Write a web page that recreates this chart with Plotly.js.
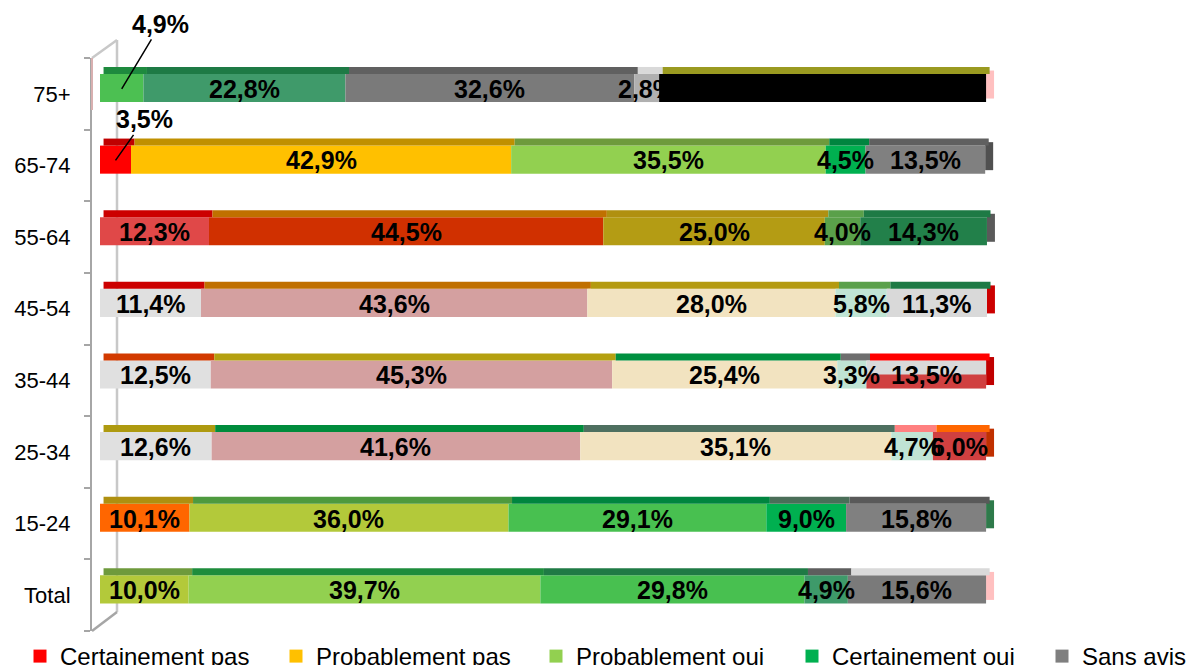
<!DOCTYPE html>
<html>
<head>
<meta charset="utf-8">
<script src="https://cdn.plot.ly/plotly-3.0.1.min.js"></script>
<style>html,body{margin:0;padding:0;background:#fff;}#chart{width:1186px;height:665px;}</style>
</head>
<body>
<div id="chart"></div>
<script>
// ---- data ----
const categories = ['Total', '15-24', '25-34', '35-44', '45-54', '55-64', '65-74', '75+'];
const seriesNames = ['Certainement pas', 'Probablement pas', 'Probablement oui', 'Certainement oui', 'Sans avis'];
const certainementPas = [10.0, 10.1, 12.6, 12.5, 11.4, 12.3, 3.5, 4.9];
const probablementPas = [39.7, 36.0, 41.6, 45.3, 43.6, 44.5, 42.9, 22.8];
const probablementOui = [29.8, 29.1, 35.1, 25.4, 28.0, 25.0, 35.5, 32.6];
const certainementOui = [4.9, 9.0, 4.7, 3.3, 5.8, 4.0, 4.5, 2.8];
const sansAvis = [15.6, 15.8, 6.0, 13.5, 11.3, 14.3, 13.5, 36.9];

// ---- styles ----
const legendColors = ['#FF0000', '#FFC000', '#92D050', '#00B050', '#7F7F7F'];
const frontColors = [
  ['#B3C93A', '#FF6600', '#E0E0E0', '#E0E0E0', '#E0E0E0', '#E04848', '#FF0000', '#4CC052'],
  ['#92D050', '#B3C93A', '#D4A0A0', '#D4A0A0', '#D4A0A0', '#D03000', '#FFC000', '#3F9A6A'],
  ['#48C050', '#48C050', '#F2E3C0', '#F2E3C0', '#F2E3C0', '#B49C14', '#92D050', '#7A7A7A'],
  ['#3E9A6A', '#00B050', '#C0E4D4', '#C0E4D4', '#C0E4D4', '#5AA04A', '#00B050', '#B0B0B0'],
  ['#7A7A7A', '#808080', '#D04040', '#D9D9D9', '#D9D9D9', '#22804A', '#808080', '#000000']
];
const topColors = [
  ['#6E9A3C', '#AF9010', '#AE9A10', '#D23A00', '#CC0000', '#CC0000', '#C00000', '#1E8A3E'],
  ['#1E8C3C', '#4E9A3E', '#008C3C', '#B4A010', '#C07000', '#C07000', '#C09000', '#1E7A45'],
  ['#1F7A45', '#00853F', '#4E7060', '#009040', '#B49A10', '#B09010', '#6E9A3C', '#606060'],
  ['#5E5E5E', '#4A6E58', '#FF8080', '#6E6E6E', '#5AA04A', '#5AA04A', '#00853F', '#D9D9D9'],
  ['#D9D9D9', '#595959', '#FF6600', '#FF0000', '#1E7A45', '#1E7A45', '#606060', '#9A9A20']
];
const sideColors = ['#FFC0C0', '#2E7A4A', '#C03000', '#C00000', '#CC0000', '#5A5A5A', '#505050', '#FFC0C0'];

const FONT = 'Liberation Sans, Arial, sans-serif';
const FRONT_OFFSET = -0.115, FRONT_WIDTH = 0.392;
const TOP_OFFSET = 0.277, TOP_WIDTH = 0.098, TOP_SHIFT = 0.4;
const SIDE_OFFSET = -0.066, SIDE_WIDTH = 0.391, SIDE_DEPTH = 0.9;

const series = [certainementPas, probablementPas, probablementOui, certainementOui, sansAvis];
const fmt = v => v.toFixed(1).replace('.', ',') + '%';

// cumulative bases
const bases = [];
series.forEach((vals, s) => {
  bases.push(vals.map((v, i) => s === 0 ? 0 : bases[s - 1][i] + series[s - 1][i]));
});
const totals = categories.map((c, i) => bases[4][i] + sansAvis[i]);

const traces = [];
// side faces
traces.push({
  type: 'bar', orientation: 'h', y: categories, x: categories.map(() => SIDE_DEPTH), base: totals,
  offset: SIDE_OFFSET, width: SIDE_WIDTH, marker: {color: sideColors, line: {width: 0}},
  showlegend: false, hoverinfo: 'skip'
});
series.forEach((vals, s) => {
  traces.push({
    type: 'bar', orientation: 'h', y: categories, x: vals, base: bases[s],
    offset: FRONT_OFFSET, width: FRONT_WIDTH, marker: {color: frontColors[s], line: {width: 0}},
    showlegend: false, hoverinfo: 'skip', name: seriesNames[s]
  });
  traces.push({
    type: 'bar', orientation: 'h', y: categories, x: vals, base: bases[s].map(b => b + TOP_SHIFT),
    offset: TOP_OFFSET, width: TOP_WIDTH, marker: {color: topColors[s], line: {width: 0}},
    showlegend: false, hoverinfo: 'skip'
  });
});
// odd two-tone front face on 35-44 "Sans avis"
const splitIdx = categories.indexOf('35-44');
traces.push({
  type: 'bar', orientation: 'h', y: [categories[splitIdx]], x: [sansAvis[splitIdx]], base: [bases[4][splitIdx]],
  offset: FRONT_OFFSET, width: FRONT_WIDTH / 2, marker: {color: '#D04040', line: {width: 0}},
  showlegend: false, hoverinfo: 'skip'
});

// legend entries: one legend box per series so each can sit where the reference puts it
const PL = 92, PT = 58, PW = 918, PH = 573;
const px = x => (x - PL) / PW;
const py = y => (PT + PH - y) / PH;
const legendKeys = ['legend', 'legend2', 'legend3', 'legend4', 'legend5'];
const legendTextX = [59, 315, 575, 831, 1081];
seriesNames.forEach((n, s) => {
  traces.push({
    type: 'scatter', mode: 'markers', x: [null], y: [null], name: n, legend: legendKeys[s],
    marker: {symbol: 'square', size: 13, color: legendColors[s]}, hoverinfo: 'skip'
  });
});

// labels
const callouts = {'75+': {ax: 39, ay: -65}, '65-74': {ax: 29, ay: -41}};
const annotations = [];
series.forEach((vals, s) => {
  vals.forEach((v, i) => {
    const cat = categories[i];
    if (s === 4 && cat === '75+') return; // black-on-black in the reference, not visible
    const a = {
      x: bases[s][i] + v / 2, y: cat, xref: 'x', yref: 'y', text: fmt(v), yshift: 5,
      font: {family: FONT, size: 25, color: '#000000', weight: 'bold'}, showarrow: false
    };
    if (s === 0 && callouts[cat]) {
      Object.assign(a, {showarrow: true, arrowhead: 0, arrowwidth: 1.5, arrowcolor: '#000000',
        ax: callouts[cat].ax, ay: callouts[cat].ay});
    }
    annotations.push(a);
  });
});

const shapes = [
  {type: 'line', xref: 'paper', yref: 'paper', x0: px(117), y0: py(40), x1: px(117), y1: py(612), line: {color: '#C8C8C8', width: 2.5}, layer: 'below'},
  {type: 'line', xref: 'paper', yref: 'paper', x0: px(92), y0: py(58), x1: px(117), y1: py(40), line: {color: '#C8C8C8', width: 2.5}, layer: 'below'},
  {type: 'line', xref: 'paper', yref: 'paper', x0: px(92), y0: py(631), x1: px(117), y1: py(612), line: {color: '#A6A6A6', width: 2.5}, layer: 'below'},
  {type: 'line', xref: 'paper', yref: 'paper', x0: px(92), y0: py(58), x1: px(92), y1: py(110), line: {color: '#D8B0B0', width: 2}, layer: 'above'}
];

const layout = {
  width: 1186, height: 665,
  margin: {l: PL, r: 1186 - PL - PW, t: PT, b: 665 - PT - PH, autoexpand: false},
  paper_bgcolor: '#ffffff', plot_bgcolor: '#ffffff',
  barmode: 'overlay', separators: ',.',
  font: {family: FONT, color: '#000000'},
  xaxis: {range: [-0.903, 102.7], visible: false, fixedrange: true},
  yaxis: {
    type: 'category', categoryorder: 'array', categoryarray: categories, range: [-0.5, 7.5],
    showline: true, linecolor: '#A6A6A6', linewidth: 2, ticks: 'outside', ticklen: 6,
    tickcolor: '#A6A6A6', tickwidth: 2, tickson: 'boundaries', showgrid: false, zeroline: false,
    tickfont: {family: FONT, size: 22, color: '#000000'}, ticklabelstandoff: 15, automargin: false
  },
  showlegend: true,
  annotations: annotations,
  shapes: shapes
};
legendKeys.forEach((k, s) => {
  layout[k] = {
    orientation: 'h', x: px(legendTextX[s] - 39), xanchor: 'left', y: py(634), yanchor: 'top',
    font: {family: FONT, size: 24, color: '#000000'},
    bgcolor: 'rgba(0,0,0,0)', borderwidth: 0
  };
});

Plotly.newPlot('chart', traces, layout, {displayModeBar: false, staticPlot: true});
</script>
</body>
</html>
